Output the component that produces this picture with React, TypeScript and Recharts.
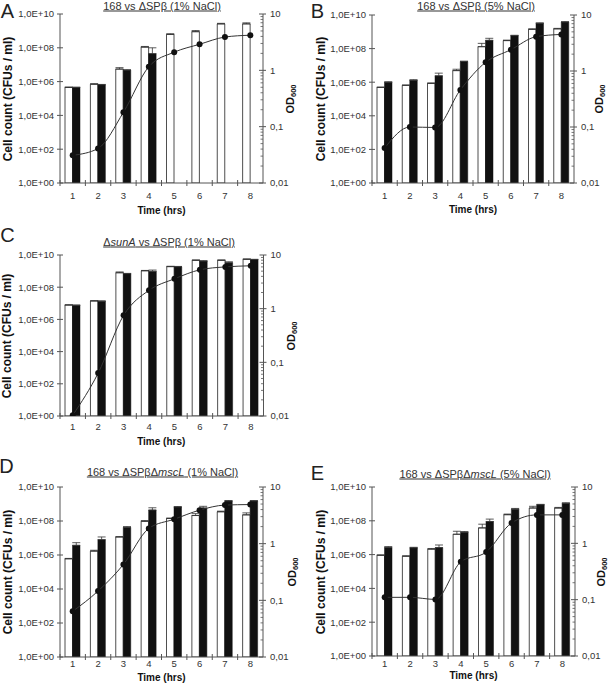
import React from 'react';
import { ComposedChart, Bar, Line, XAxis, YAxis, ErrorBar } from 'recharts';

const FONT = '"Liberation Sans", Arial, sans-serif';

// sampling time points (hrs)
const hours = ['1', '2', '3', '4', '5', '6', '7', '8'];

// left axis (CFUs / ml) and right axis (OD600) ticks
const cfuTicks = [1, 1e2, 1e4, 1e6, 1e8, 1e10];
const cfuTickLabels = ['1,0E+00', '1,0E+02', '1,0E+04', '1,0E+06', '1,0E+08', '1,0E+10'];
const odTicks = [
  0.01, 0.02, 0.03, 0.04, 0.05, 0.06, 0.07, 0.08, 0.09,
  0.1, 0.2, 0.3, 0.4, 0.5, 0.6, 0.7, 0.8, 0.9,
  1, 2, 3, 4, 5, 6, 7, 8, 9, 10,
];
const odMajorTicks = [0.01, 0.1, 1, 10];
const odMajorLabels = ['0,01', '0,1', '1', '10'];

// A: 168 vs dSPb (1% NaCl)
const aWhite = [4.5e5, 7e5, 5.5e6, 1.1e8, 6.2e8, 9e8, 2.6e9, 2.6e9];
const aWhiteErr = [3e4, 5e4, 1.2e6, 1e7, 6e7, 1.5e8, 2e8, 4e8];
const aBlack = [4.5e5, 6.5e5, 4.8e6, 4.5e7, null, null, null, null];
const aBlackErr = [2e4, 3e4, 2e5, 5.5e7, null, null, null, null];
const aOD = [0.031, 0.041, 0.18, 1.16, 2.1, 2.9, 3.9, 4.2];

// B: 168 vs dSPb (5% NaCl)
const bWhite = [4.9e5, 6.5e5, 8.5e5, 4.9e6, 1.3e8, 3e8, 1.4e9, 1.5e9];
const bWhiteErr = [2e4, 3e4, 5e4, 1e6, 7.5e7, 2e7, 1e8, 1e8];
const bBlack = [1.0e6, 1.3e6, 2.4e6, 1.7e7, 3.1e8, 5.9e8, 3.2e9, 3.8e9];
const bBlackErr = [5e4, 1e5, 1.06e6, 1e6, 1e8, 3e7, 2e8, 2e8];
const bOD = [0.042, 0.1, 0.098, 0.46, 1.43, 2.4, 4.1, 4.5];

// C: dsunA vs dSPb (1% NaCl)
const cWhite = [7.8e6, 1.4e7, 7.9e8, 1.05e9, 1.9e9, 4.7e9, 4.7e9, 5.4e9];
const cWhiteErr = [3e5, 5e5, 1e8, 5e7, 1e8, 2e8, 2e8, 3e8];
const cBlack = [7.5e6, 1.35e7, 6.9e8, 9.6e8, 1.85e9, 4.2e9, 3.3e9, 5.2e9];
const cBlackErr = [3e5, 5e5, 3e7, 2e8, 1e8, 2e8, 5e8, 2e8];
const cOD = [0.0103, 0.063, 0.75, 2.2, 3.6, 5.3, 6.0, 6.3];

// D: 168 vs dSPb dmscL (1% NaCl)
const dWhite = [6e5, 1.7e6, 1.15e7, 9.6e7, 1.4e8, 2.1e8, 3.5e8, 2.3e8];
const dWhiteErr = [3e4, 2e5, 5e5, 1e7, 1e7, 6e7, 3e7, 7e7];
const dBlack = [3.7e6, 8e6, 4.2e7, 4.4e8, 6.6e8, 5.8e8, 1.5e9, 1.5e9];
const dBlackErr = [1.6e6, 3.5e6, 5e6, 1.6e8, 5e7, 1.5e8, 1e8, 1e8];
const dOD = [0.064, 0.146, 0.43, 1.86, 2.7, 3.9, 4.8, 4.9];

// E: 168 vs dSPb dmscL (5% NaCl)
const eWhite = [9.1e5, 8e5, 2.1e6, 1.6e7, 3.8e7, 2.3e8, 5.7e8, 5.7e8];
const eWhiteErr = [5e4, 5e4, 2e5, 8e6, 2.5e7, 2e7, 1.5e8, 5e7];
const eBlack = [2.6e6, 2.5e6, 2.6e6, 2.1e7, 9.1e7, 4.9e8, 8.9e8, 1.07e9];
const eBlackErr = [4e5, 2e5, 1.1e6, 2e6, 3.5e7, 5e7, 5e7, 1e8];
const eOD = [0.11, 0.11, 0.101, 0.47, 0.7, 2.3, 3.2, 3.2];

type PanelCfg = {
  letter: string;
  title: React.ReactNode;
  white: (number | null)[];
  whiteErr: (number | null)[];
  black: (number | null)[];
  blackErr: (number | null)[];
  od: number[];
  plotLeft: number;
  plotTop: number;
  plotW: number;
  plotH: number;
  xLabelDy: number;
  xTitleDy: number;
  leftTitleDx: number;
  rightTitleDx: number;
  titleX: number;
  titleY: number;
  letterX: number;
  letterY: number;
};

const panels: PanelCfg[] = [
  {
    letter: 'A', title: <>168 vs ΔSPβ (1% NaCl)</>,
    white: aWhite, whiteErr: aWhiteErr, black: aBlack, blackErr: aBlackErr, od: aOD,
    plotLeft: 60, plotTop: 14, plotW: 203, plotH: 169,
    xLabelDy: 12.7, xTitleDy: 28, leftTitleDx: -52, rightTitleDx: 28,
    titleX: 162, titleY: 6, letterX: 7.5, letterY: 11,
  },
  {
    letter: 'B', title: <>168 vs ΔSPβ (5% NaCl)</>,
    white: bWhite, whiteErr: bWhiteErr, black: bBlack, blackErr: bBlackErr, od: bOD,
    plotLeft: 372, plotTop: 15, plotW: 202, plotH: 168,
    xLabelDy: 13, xTitleDy: 27, leftTitleDx: -51, rightTitleDx: 26,
    titleX: 476, titleY: 6, letterX: 317.5, letterY: 11,
  },
  {
    letter: 'C', title: <>Δ<i>sunA</i> vs ΔSPβ (1% NaCl)</>,
    white: cWhite, whiteErr: cWhiteErr, black: cBlack, blackErr: cBlackErr, od: cOD,
    plotLeft: 59.5, plotTop: 255, plotW: 203.5, plotH: 161,
    xLabelDy: 11, xTitleDy: 25.7, leftTitleDx: -52.5, rightTitleDx: 28.5,
    titleX: 169, titleY: 241.5, letterX: 7.5, letterY: 235,
  },
  {
    letter: 'D', title: <>168 vs ΔSPβΔ<i>mscL</i> (1% NaCl)</>,
    white: dWhite, whiteErr: dWhiteErr, black: dBlack, blackErr: dBlackErr, od: dOD,
    plotLeft: 60, plotTop: 487, plotW: 203, plotH: 170,
    xLabelDy: 7, xTitleDy: 20.6, leftTitleDx: -52, rightTitleDx: 30,
    titleX: 162.5, titleY: 472, letterX: 6.5, letterY: 465.5,
  },
  {
    letter: 'E', title: <>168 vs ΔSPβΔ<i>mscL</i> (5% NaCl)</>,
    white: eWhite, whiteErr: eWhiteErr, black: eBlack, blackErr: eBlackErr, od: eOD,
    plotLeft: 372, plotTop: 487, plotW: 203, plotH: 169,
    xLabelDy: 7.5, xTitleDy: 20, leftTitleDx: -51, rightTitleDx: 27,
    titleX: 475, titleY: 474, letterX: 317.5, letterY: 472.5,
  },
];

const AXIS = '#555';
const TICK_TEXT = '#333';

const LeftTick = (props: any) => {
  const { x, y, payload } = props;
  const i = cfuTicks.indexOf(payload.value);
  return (
    <g>
      <line x1={x - 3} x2={x + 3} y1={y} y2={y} stroke={AXIS} strokeWidth={1} />
      <text x={x - 6} y={y} dy="0.35em" textAnchor="end" fontSize={9.5} fill={TICK_TEXT} fontFamily={FONT}>
        {cfuTickLabels[i]}
      </text>
    </g>
  );
};

const RightTick = (props: any) => {
  const { x, y, payload } = props;
  const i = odMajorTicks.indexOf(payload.value);
  if (i < 0) {
    return <line x1={x - 2.5} x2={x} y1={y} y2={y} stroke={AXIS} strokeWidth={0.8} />;
  }
  return (
    <g>
      <line x1={x - 4} x2={x + 3} y1={y} y2={y} stroke={AXIS} strokeWidth={1} />
      <text x={x + 7} y={y} dy="0.35em" textAnchor="start" fontSize={9.5} fill={TICK_TEXT} fontFamily={FONT}>
        {odMajorLabels[i]}
      </text>
    </g>
  );
};

function Panel({ p }: { p: PanelCfg }) {
  const mTop = 10;
  const leftW = 60;
  const rightW = 40;
  const xH = 40;
  const w = leftW + p.plotW + rightW;
  const h = mTop + p.plotH + xH;
  const band = p.plotW / hours.length;

  const data = hours.map((hr, i) => ({
    hour: hr,
    white: p.white[i],
    black: p.black[i],
    od: p.od[i],
    whiteErr: p.whiteErr[i] == null ? null : [0, p.whiteErr[i]],
    blackErr: p.blackErr[i] == null ? null : [0, p.blackErr[i]],
  }));

  const XTick = (props: any) => {
    const { x, y, payload } = props;
    const bx = x - band / 2;
    return (
      <g>
        <line x1={bx} x2={bx} y1={y - 3} y2={y + 3} stroke={AXIS} strokeWidth={1} />
        <text x={x} y={y + p.xLabelDy} dy="0.35em" textAnchor="middle" fontSize={9.5} fill={TICK_TEXT} fontFamily={FONT}>
          {payload.value}
        </text>
      </g>
    );
  };

  const midY = p.plotTop + p.plotH / 2;
  const right = p.plotLeft + p.plotW;

  return (
    <>
      <div style={{ position: 'absolute', left: p.plotLeft - leftW, top: p.plotTop - mTop }}>
        <ComposedChart
          width={w}
          height={h}
          data={data}
          margin={{ top: mTop, right: 0, left: 0, bottom: 0 }}
          barGap={0}
          barSize={7.5}
        >
          <XAxis
            dataKey="hour"
            height={xH}
            interval={0}
            axisLine={{ stroke: AXIS }}
            tickLine={false}
            tickSize={0}
            tickMargin={0}
            tick={XTick}
          />
          <YAxis
            yAxisId="cfu"
            orientation="left"
            width={leftW}
            type="number"
            scale="log"
            domain={[1, 1e10]}
            ticks={cfuTicks}
            interval={0}
            allowDataOverflow
            axisLine={{ stroke: AXIS }}
            tickLine={false}
            tickSize={0}
            tickMargin={0}
            tick={LeftTick}
          />
          <YAxis
            yAxisId="od"
            orientation="right"
            width={rightW}
            type="number"
            scale="log"
            domain={[0.01, 10]}
            ticks={odTicks}
            interval={0}
            allowDataOverflow
            axisLine={{ stroke: AXIS }}
            tickLine={false}
            tickSize={0}
            tickMargin={0}
            tick={RightTick}
          />
          <Bar yAxisId="cfu" dataKey="white" fill="#ffffff" stroke="#222" strokeWidth={0.8} isAnimationActive={false}>
            <ErrorBar dataKey="whiteErr" width={4} stroke="#333" strokeWidth={0.8} />
          </Bar>
          <Bar yAxisId="cfu" dataKey="black" fill="#111111" stroke="#111" strokeWidth={0.5} isAnimationActive={false}>
            <ErrorBar dataKey="blackErr" width={4} stroke="#333" strokeWidth={0.8} />
          </Bar>
          <Line
            yAxisId="od"
            type="monotone"
            dataKey="od"
            stroke="#333"
            strokeWidth={1}
            dot={{ r: 3, fill: '#111', stroke: '#111', strokeWidth: 0 }}
            activeDot={false}
            isAnimationActive={false}
          />
        </ComposedChart>
      </div>

      {/* panel letter */}
      <div style={{ ...centered(p.letterX, p.letterY), fontSize: 20, color: '#222' }}>{p.letter}</div>
      {/* panel title */}
      <div style={{ ...centered(p.titleX, p.titleY), fontSize: 11, color: '#333', textDecoration: 'underline' }}>
        {p.title}
      </div>
      {/* axis titles */}
      <div style={{ ...centered(p.plotLeft + p.leftTitleDx, midY, -90), fontSize: 12, fontWeight: 'bold', color: '#111' }}>
        Cell count (CFUs / ml)
      </div>
      <div style={{ ...centered(right + p.rightTitleDx, midY, -90), fontSize: 11, fontWeight: 'bold', color: '#111' }}>
        OD<sub style={{ fontSize: 7.5, verticalAlign: '-2px', lineHeight: 1 }}>600</sub>
      </div>
      <div style={{ ...centered(p.plotLeft + p.plotW / 2, p.plotTop + p.plotH + p.xTitleDy), fontSize: 10, fontWeight: 'bold', color: '#111' }}>
        Time (hrs)
      </div>
    </>
  );
}

function centered(x: number, y: number, rot = 0): React.CSSProperties {
  return {
    position: 'absolute',
    left: x,
    top: y,
    transform: `translate(-50%, -50%) rotate(${rot}deg)`,
    whiteSpace: 'nowrap',
    lineHeight: 1,
    fontFamily: FONT,
  };
}

export default function App() {
  return (
    <div style={{ position: 'absolute', left: 0, top: 0, width: 608, height: 687, background: '#fff', fontFamily: FONT }}>
      {panels.map((p) => (
        <Panel key={p.letter} p={p} />
      ))}
    </div>
  );
}
